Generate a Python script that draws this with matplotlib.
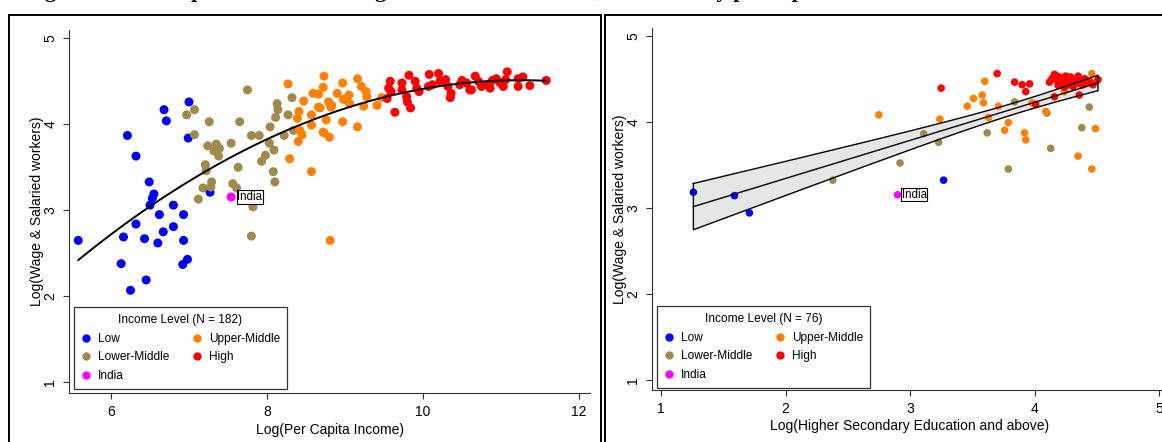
import numpy as np
import matplotlib.pyplot as plt
from matplotlib.lines import Line2D
from matplotlib.patches import Rectangle

plt.rcParams['font.family'] = ['Liberation Sans', 'DejaVu Sans']

# ---- colours for the income groups
col_low = '#0000ff'
col_lmid = '#a08a4b'
col_umid = '#ff8000'
col_high = '#ff0000'
col_india = '#ff00ff'

# ---- left panel: log per capita income vs log wage & salaried workers
inc_low_x = [5.58, 6.21, 6.32, 7.00, 6.68, 6.71, 6.99, 6.49, 6.55, 6.53, 6.50, 7.27, 6.80, 6.62,
             6.93, 6.32, 6.80, 6.67, 6.16, 6.43, 6.60, 6.93, 6.13, 6.98, 6.92, 6.45, 6.25]
inc_low_y = [2.65, 3.87, 3.63, 4.26, 4.17, 4.04, 3.84, 3.33, 3.19, 3.14, 3.06, 3.21, 3.06, 2.95,
             2.95, 2.84, 2.81, 2.75, 2.69, 2.67, 2.62, 2.65, 2.38, 2.43, 2.37, 2.19, 2.07]

inc_lmid_x = [7.75, 7.07, 6.97, 7.26, 7.65, 7.07, 7.24, 7.35, 7.32, 7.38, 7.39, 7.54, 7.80, 7.90,
              7.21, 7.22, 7.63, 7.93, 7.98, 8.03, 8.09, 8.04, 8.08, 8.10, 7.29, 7.28, 7.18, 7.12,
              7.56, 7.61, 7.82, 7.80, 8.13, 8.14, 8.11, 8.32, 8.22, 8.27, 8.34]
inc_lmid_y = [4.40, 4.17, 4.11, 4.03, 4.03, 3.88, 3.75, 3.77, 3.69, 3.63, 3.72, 3.78, 3.87, 3.87,
              3.53, 3.46, 3.50, 3.57, 3.64, 3.78, 3.70, 3.97, 3.45, 3.33, 3.33, 3.27, 3.26, 3.13,
              3.31, 3.26, 3.04, 2.70, 4.24, 4.17, 4.08, 4.31, 3.87, 4.11, 3.93]

inc_umid_x = [8.27, 8.73, 8.72, 8.97, 9.16, 8.59, 8.90, 9.05, 8.98, 8.47, 8.41, 8.79, 8.66, 8.82,
              8.57, 8.76, 8.97, 9.16, 8.57, 8.42, 8.45, 8.73, 8.80, 8.40, 8.29, 8.57, 8.81, 8.39,
              9.21, 9.27, 9.28, 9.24, 8.66, 9.02, 9.06, 8.83, 8.68, 9.41, 9.47, 8.72]
inc_umid_y = [4.47, 4.56, 4.43, 4.48, 4.53, 4.36, 4.36, 4.34, 4.29, 4.27, 4.15, 4.26, 4.20, 4.20,
              4.11, 4.05, 4.03, 3.97, 3.99, 3.93, 3.88, 3.90, 3.85, 3.80, 3.60, 3.45, 2.65, 4.07,
              4.44, 4.38, 4.32, 4.21, 4.35, 4.28, 4.24, 4.22, 4.19, 4.22, 4.31, 3.91]

inc_high_x = [9.58, 9.56, 9.54, 9.64, 9.73, 9.79, 9.80, 9.84, 9.82, 9.90, 9.92, 9.95, 10.07, 10.08,
              10.20, 10.22, 10.29, 10.32, 10.36, 10.35, 10.50, 10.56, 10.60, 10.67, 10.71, 10.75,
              10.82, 10.89, 10.94, 10.99, 11.03, 11.08, 11.06, 11.22, 11.22, 11.28, 11.37, 11.58,
              10.47, 10.62, 10.86, 10.12, 9.59, 9.73]
inc_high_y = [4.50, 4.42, 4.30, 4.14, 4.48, 4.32, 4.26, 4.19, 4.57, 4.50, 4.42, 4.38, 4.44, 4.58,
              4.59, 4.50, 4.52, 4.44, 4.36, 4.31, 4.51, 4.48, 4.40, 4.56, 4.50, 4.44,
              4.46, 4.51, 4.53, 4.48, 4.44, 4.61, 4.52, 4.53, 4.44, 4.55, 4.45, 4.51,
              4.46, 4.40, 4.42, 4.46, 4.38, 4.40]

inc_india = (7.54, 3.155)

# ---- right panel: log higher secondary education vs log wage & salaried workers
edu_low_x = [1.26, 1.59, 1.71, 3.27]
edu_low_y = [3.18, 3.14, 2.94, 3.32]

edu_lmid_x = [2.38, 2.92, 3.11, 3.23, 3.62, 3.79, 3.84, 4.10, 4.13, 4.38, 4.44]
edu_lmid_y = [3.32, 3.52, 3.86, 3.76, 3.87, 3.45, 4.23, 4.10, 3.69, 3.93, 4.17]

edu_umid_x = [2.75, 3.60, 3.51, 3.58, 3.59, 3.46, 3.71, 3.63, 3.79, 3.76, 3.92, 3.93, 4.09, 3.98,
              4.35, 4.46, 4.49, 4.46, 3.24, 4.24]
edu_umid_y = [4.08, 4.47, 4.27, 4.31, 4.22, 4.18, 4.18, 4.05, 3.99, 3.90, 3.87, 3.79, 4.12, 4.22,
              3.60, 3.45, 3.92, 4.56, 4.03, 4.35]

edu_high_x = [3.25, 3.70, 3.84, 3.90, 3.96, 3.93, 4.01, 4.12, 4.16, 4.18, 4.21, 4.25, 4.27, 4.28,
              4.32, 4.36, 4.39, 4.42, 4.47, 4.51, 4.36, 4.16, 4.22, 4.31, 4.20, 4.30, 4.34, 4.40,
              4.14, 4.19, 4.23, 4.26, 4.29, 4.33, 4.37, 4.41, 4.45, 4.24, 4.18, 4.35]
edu_high_y = [4.39, 4.56, 4.46, 4.43, 4.44, 4.35, 4.20, 4.46, 4.55, 4.48, 4.45, 4.53, 4.48, 4.43,
              4.47, 4.48, 4.43, 4.47, 4.43, 4.49, 4.31, 4.29, 4.50, 4.41, 4.52, 4.50, 4.45, 4.50,
              4.50, 4.42, 4.47, 4.44, 4.52, 4.49, 4.44, 4.49, 4.46, 4.40, 4.53, 4.53]

edu_india = (2.90, 3.15)

legend_labels = ['Low', 'Lower-Middle', 'India', 'Upper-Middle', 'High']
legend_colors = [col_low, col_lmid, col_india, col_umid, col_high]

W, H = 1162, 442


def px_rect(x0, y0, x1, y1):
    # pixel box (top-left origin) -> figure fraction [left, bottom, width, height]
    return [x0 / W, 1 - y1 / H, (x1 - x0) / W, (y1 - y0) / H]


def style_axis(ax):
    for s in ['top', 'right']:
        ax.spines[s].set_visible(False)
    for s in ['left', 'bottom']:
        ax.spines[s].set_color('#333333')
        ax.spines[s].set_linewidth(0.8)
    ax.tick_params(direction='out', length=4.3, width=0.8, color='#333333',
                   labelsize=10, pad=4)
    for lab in ax.get_yticklabels():
        lab.set_rotation(90)
        lab.set_va('center')
    ax.set_facecolor('white')


def add_legend(ax, n, x0, y0):
    handles = [Line2D([], [], marker='o', ls='', color=c, markeredgewidth=0, markersize=6)
               for c in legend_colors]
    leg = ax.legend(handles, legend_labels, ncol=2, title='Income Level (N = %d)' % n,
                    loc='upper left', bbox_to_anchor=(x0 / W, 1 - y0 / H),
                    bbox_transform=ax.figure.transFigure, borderaxespad=0,
                    fontsize=8.6, title_fontsize=8.6, frameon=True, fancybox=False,
                    edgecolor='black', handlelength=0.8, handletextpad=0.6,
                    labelspacing=0.55, borderpad=0.6, columnspacing=1.9)
    leg.get_frame().set_linewidth(0.9)
    leg.set_zorder(10)


fig = plt.figure(figsize=(W / 100, H / 100), dpi=100)
fig.patch.set_facecolor('white')

# panel frames
fig.patches.append(Rectangle((8.5 / W, -0.05), (601 - 8.5) / W, 1.05 - 14.5 / H,
                             transform=fig.transFigure, fill=False, ec='black', lw=1.4))
fig.patches.append(Rectangle((605 / W, -0.05), (1200 - 605) / W, 1.05 - 14.5 / H,
                             transform=fig.transFigure, fill=False, ec='black', lw=1.4))

# title, cut by the top edge as in the source picture (only descenders show)
fig.text(25 / W, 1 + 2.5 / H,
         'Figure 3: Scatter plot of Share of Wage & Salaried Workers, Countries by per capita income',
         family=['Liberation Serif'], fontweight='bold', fontsize=16, va='baseline', ha='left')

# ---------------- left panel
ax1 = fig.add_axes(px_rect(69, 30, 590, 393))
ax1.set_xlim(6 + (69 - 111) / 78, 6 + (590 - 111) / 78)
ax1.set_ylim(5 - (393 - 38.3) / 86, 5 - (30 - 38.3) / 86)
ax1.set_xticks([6, 8, 10, 12])
ax1.set_yticks([1, 2, 3, 4, 5])

ms1 = 42
for xs, ys, c in [(inc_low_x, inc_low_y, col_low), (inc_lmid_x, inc_lmid_y, col_lmid),
                  (inc_umid_x, inc_umid_y, col_umid), (inc_high_x, inc_high_y, col_high)]:
    ax1.scatter(xs, ys, s=ms1, c=c, edgecolors='none', zorder=2)
ax1.scatter([inc_india[0]], [inc_india[1]], s=ms1, c=col_india, edgecolors='none', zorder=3)
ax1.annotate('India', inc_india, xytext=(4.5, 0), textcoords='offset points', fontsize=8.3,
             va='center', ha='left', zorder=4,
             bbox=dict(boxstyle='square,pad=0.05', fc='white', ec='black', lw=0.8))

# quadratic fit over all countries
all_x = np.array(inc_low_x + inc_lmid_x + inc_umid_x + inc_high_x + [inc_india[0]])
all_y = np.array(inc_low_y + inc_lmid_y + inc_umid_y + inc_high_y + [inc_india[1]])
coef = np.polyfit(all_x, all_y, 2)
xx = np.linspace(all_x.min(), all_x.max(), 200)
ax1.plot(xx, np.polyval(coef, xx), color='black', lw=1.4, zorder=5)

style_axis(ax1)
add_legend(ax1, 182, 74, 307)
fig.text(37 / W, 1 - 211 / H, 'Log(Wage & Salaried workers)', rotation=90,
         ha='center', va='center', fontsize=10)
fig.text(329.5 / W, 1 - 430 / H, 'Log(Per Capita Income)', ha='center', va='center', fontsize=10)

# ---------------- right panel
ax2 = fig.add_axes(px_rect(652, 28, 1168, 390))
ax2.set_xlim(1 + (652 - 661) / 124.5, 1 + (1168 - 661) / 124.5)
ax2.set_ylim(4 - (390 - 121.7) / 86, 4 + (121.7 - 28) / 86)
ax2.set_xticks([1, 2, 3, 4, 5])
ax2.set_yticks([1, 2, 3, 4, 5])

ex = np.array(edu_low_x + edu_lmid_x + edu_umid_x + edu_high_x + [edu_india[0]])
ey = np.array(edu_low_y + edu_lmid_y + edu_umid_y + edu_high_y + [edu_india[1]])
b1, b0 = np.polyfit(ex, ey, 1)
xg = np.linspace(ex.min(), ex.max(), 200)
fit = b0 + b1 * xg
resid = ey - (b0 + b1 * ex)
n = len(ex)
s = np.sqrt(np.sum(resid ** 2) / (n - 2))
se = s * np.sqrt(1 / n + (xg - ex.mean()) ** 2 / np.sum((ex - ex.mean()) ** 2))
t = 1.993
lo, hi = fit - t * se, fit + t * se
ax2.fill_between(xg, lo, hi, color='#e6e6e6', lw=0, zorder=1)

ms2 = 30
for xs, ys, c in [(edu_low_x, edu_low_y, col_low), (edu_lmid_x, edu_lmid_y, col_lmid),
                  (edu_umid_x, edu_umid_y, col_umid), (edu_high_x, edu_high_y, col_high)]:
    ax2.scatter(xs, ys, s=ms2, c=c, edgecolors='none', zorder=2)
ax2.scatter([edu_india[0]], [edu_india[1]], s=ms2, c=col_india, edgecolors='none', zorder=3)
ax2.annotate('India', edu_india, xytext=(3, 0), textcoords='offset points', fontsize=8.3,
             va='center', ha='left', zorder=4,
             bbox=dict(boxstyle='square,pad=0.05', fc='white', ec='black', lw=0.8))

# band outline (closed at both ends) and fitted line
ax2.plot(np.r_[xg, xg[::-1], xg[0]], np.r_[hi, lo[::-1], hi[0]], color='black', lw=1.0, zorder=5)
ax2.plot(xg, fit, color='black', lw=1.0, zorder=5)

style_axis(ax2)
add_legend(ax2, 76, 657, 306)
fig.text(620 / W, 1 - 209 / H, 'Log(Wage & Salaried workers)', rotation=90,
         ha='center', va='center', fontsize=10)
fig.text(910 / W, 1 - 426 / H, 'Log(Higher Secondary Education and above)',
         ha='center', va='center', fontsize=10)

fig.savefig('out.png', dpi=100)
